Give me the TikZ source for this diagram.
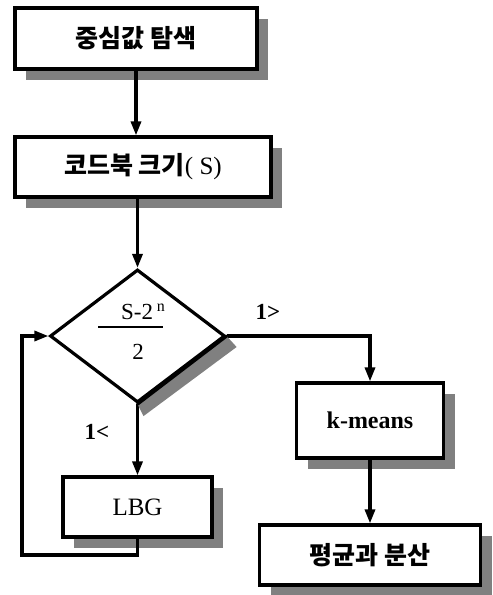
\documentclass[tikz,border=0pt]{standalone}
\usepackage{fontspec}
\setmainfont{Liberation Serif}
\newfontfamily\kr{Noto Sans CJK KR}
\usetikzlibrary{arrows.meta,shapes.geometric,shadows}
\tikzset{
  box/.style={draw, line width=3.2pt, fill=white, inner sep=0pt,
    drop shadow={shadow xshift=11pt, shadow yshift=-11pt, fill=black!50, opacity=1}},
  dia/.style={diamond, draw, line width=3.2pt, fill=white, inner sep=0pt,
    minimum width=175pt, minimum height=133pt},
  diastrip/.style={fill=black!50, draw=none},
  edge/.style={line width=3.2pt, line cap=round},
  conn/.style={line width=3.2pt, -{Triangle[length=14pt,width=10pt]}},
  lbl/.style={font=\fontsize{23}{26}\selectfont\bfseries},
  krf/.style={font=\kr\bfseries\fontsize{25}{30}\selectfont},
  ltf/.style={font=\fontsize{25}{28}\selectfont}
}
\begin{document}
\begin{tikzpicture}[x=1pt,y=-1pt]
\useasboundingbox (0,0) rectangle (493,595);
\node[box,krf,minimum width=242pt,minimum height=61pt] (b1) at (136,38.5) {중심값 탐색};
\node[box,minimum width=256pt,minimum height=60pt] (b2) at (143,167) {{\kr\bfseries\fontsize{25}{30}\selectfont 코드북 크기}{\fontsize{25}{28}\selectfont( S)}};
\node[dia] (d) at (137.5,336) {};
\node[inner sep=0pt,font=\fontsize{23}{26}\selectfont] (num) at (143,312) {S-2\,\raisebox{.35em}{\fontsize{16}{17}\selectfont n}};
\node[inner sep=0pt,font=\fontsize{23}{26}\selectfont] (den) at (138,352) {2};
\draw[line width=1.2pt] (98,327) -- (163,327);
\node[box,ltf,minimum width=149pt,minimum height=60pt] (lbg) at (137.5,507) {LBG};
\node[box,font=\fontsize{24}{28}\selectfont\bfseries,minimum width=147pt,minimum height=75pt] (km) at (370,420.5) {k-means};
\node[box,krf,minimum width=221pt,minimum height=60pt] (pb) at (370,555) {평균과 분산};
\node[lbl] (l1) at (268,312) {1>};
\node[lbl] (l2) at (97,432) {1<};
\coordinate (loop) at (22,555);
\draw[conn] (b1.south) -- (b1.south |- b2.north);
\draw[conn] (d.north |- b2.south) -- (d.north);
\draw[conn] (d.east) -- (km.north |- d.east) -- (km.north);
\draw[conn] (d.south) -- (lbg.north);
\draw[conn] (km.south) -- (pb.north);
\draw[conn] (lbg.south) |- (loop) |- (d.west);
% diamond shadow strip along the lower-right edge, then the edge again on top
\path[diastrip] (d.east) -- (d.south) -- ([shift={(6,12)}]d.south) -- ([shift={(10,11)}]d.east) -- cycle;
\draw[edge] (d.east) -- (d.south);
\end{tikzpicture}
\end{document}
